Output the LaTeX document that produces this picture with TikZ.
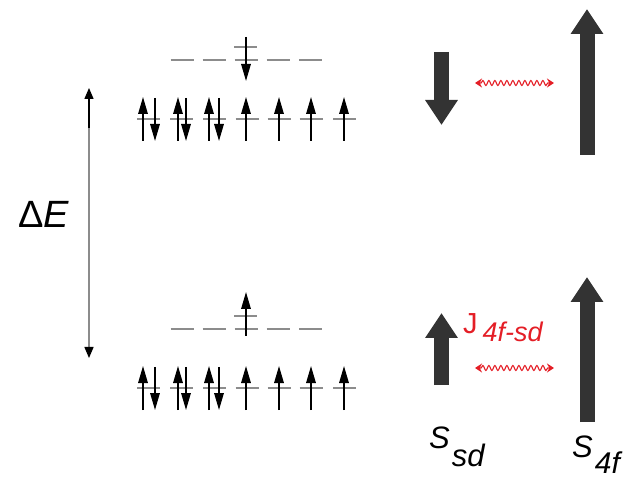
\documentclass[tikz,border=0pt]{standalone}
\usepackage{fontspec}
\setmainfont{Liberation Sans}
\usetikzlibrary{arrows.meta,decorations.pathmorphing}
\definecolor{spindark}{RGB}{51,51,51}
\definecolor{couplered}{RGB}{228,30,38}
\definecolor{levelgray}{RGB}{140,140,140}
\tikzset{gaptip/.tip={Triangle[length=11pt,width=9pt,fill=black,color=black]}}
\begin{document}
\begin{tikzpicture}[x=1pt,y=-1pt,
  level/.style={levelgray,line width=1.3pt},
  spin/.style={black,line width=1.6pt,-{Triangle[length=17pt,width=9.5pt]}},
  bigspin/.style={spindark,line width=15pt,-{Triangle[length=25pt,width=31pt]}},
  coupling/.style={couplered,line width=1.1pt,{Stealth[length=7pt,width=9pt]}-{Stealth[length=7pt,width=9pt]},
    decorate,decoration={snake,amplitude=2.5pt,segment length=6pt,pre length=6pt,post length=6pt}},
  lbl/.style={inner sep=0pt,anchor=base west}]
\useasboundingbox (0,0) rectangle (641,484);

% two energy-level blocks, the second shifted down by 269
\foreach \dy in {0,269}{
  \begin{scope}[yshift=-\dy pt]
    % ground-state orbitals (7 levels)
    \foreach \cx in {148.5,181.5,214.5,247,279,311,344.5}
      \draw[level] (\cx-11.5,119) -- (\cx+11.5,119);
    % paired spins
    \foreach \u/\d in {143/155,178/186,209/219}{
      \draw[spin] (\u,141) -- (\u,97);
      \draw[spin] (\d,98) -- (\d,141);
    }
    % unpaired spins
    \foreach \cx in {246,279,311,344}
      \draw[spin] (\cx,141) -- (\cx,97);
    % excited orbitals (5 levels)
    \foreach \cx in {182,214,246,278,310.5}
      \draw[level] (\cx-11.5,60) -- (\cx+11.5,60);
    \draw[level] (234,47) -- (257,47);
  \end{scope}
}
% promoted electron: spin down (upper), spin up (lower)
\draw[spin] (246,37) -- (246,81);
\draw[spin] (246,336) -- (246,292);

% energy gap
\coordinate (eTop) at (89,88);
\coordinate (eMid) at (89,128);
\coordinate (eBot) at (89,358);
\draw[levelgray,line width=1.3pt,-{gaptip}] (eMid) -- (eBot);
\draw[black,line width=1.3pt,-{gaptip}] (eMid) -- (eTop);
\node[lbl] (dE) at (18,228) {\fontsize{38}{38}\selectfont Δ\textit{E}};

% large spin vectors
\coordinate (sdA0) at (441.5,52);  \coordinate (sdA1) at (441.5,125);
\coordinate (fA0) at (587,155);    \coordinate (fA1) at (587,9);
\coordinate (sdB0) at (441.5,385); \coordinate (sdB1) at (441.5,313);
\coordinate (fB0) at (587,422);    \coordinate (fB1) at (587,277);
\draw[bigspin] (sdA0) -- (sdA1);
\draw[bigspin] (fA0) -- (fA1);
\draw[bigspin] (sdB0) -- (sdB1);
\draw[bigspin] (fB0) -- (fB1);

% exchange couplings
\coordinate (jA0) at (475,83);  \coordinate (jA1) at (554,83);
\coordinate (jB0) at (475,368); \coordinate (jB1) at (554,368);
\draw[coupling] (jA0) -- (jA1);
\draw[coupling] (jB0) -- (jB1);

% labels
\node[lbl,text=couplered] (J) at (463,334)
  {\fontsize{29}{29}\selectfont J\kern5pt\raisebox{-8pt}{\fontsize{27}{27}\selectfont\itshape 4f-sd}};
\node[lbl] (Ssd) at (429,448)
  {\fontsize{31}{31}\selectfont\itshape S\kern2pt\raisebox{-18pt}{\fontsize{31}{31}\selectfont sd}};
\node[lbl] (S4f) at (572,457)
  {\fontsize{31}{31}\selectfont\itshape S\kern2pt\raisebox{-16pt}{\fontsize{30}{30}\selectfont 4f}};
\end{tikzpicture}
\end{document}
